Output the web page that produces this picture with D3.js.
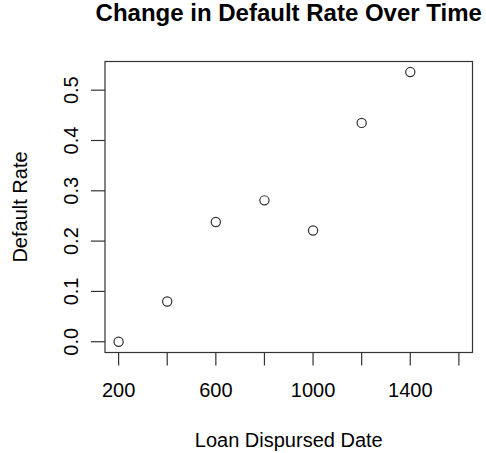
<!DOCTYPE html>
<html>
<head>
<meta charset="utf-8">
<script src="https://cdn.jsdelivr.net/npm/d3@7"></script>
<style>
  body { margin: 0; background: #fff; }
  text { font-family: "Liberation Sans", Arial, sans-serif; fill: #000; }
</style>
</head>
<body>
<svg width="486" height="453"></svg>
<script>
// data
var loanDates = [200, 400, 600, 800, 1000, 1200, 1400];
var defaultRates = [0, 0.08, 0.238, 0.281, 0.221, 0.435, 0.536];
var xTicks = [200, 400, 600, 800, 1000, 1200, 1400, 1600];
var xTickLabels = [200, 600, 1000, 1400];
var yTicks = [0, 0.1, 0.2, 0.3, 0.4, 0.5];

var svg = d3.select("svg");
// plot box
var box = {left: 105, right: 472.5, top: 61.5, bottom: 352.5};

var x = d3.scaleLinear().domain([144, 1656]).range([box.left, box.right]);
var y = d3.scaleLinear().domain([-0.0214, 0.557]).range([box.bottom, box.top]);

var ink = "#333";

// x axis ticks
svg.append("g").selectAll("line").data(xTicks).enter().append("line")
  .attr("x1", function(d) { return x(d); }).attr("x2", function(d) { return x(d); })
  .attr("y1", box.bottom).attr("y2", box.bottom + 13)
  .attr("stroke", ink).attr("stroke-width", 1.2);
svg.append("g").selectAll("text").data(xTickLabels).enter().append("text")
  .attr("x", function(d) { return x(d); }).attr("y", 397)
  .attr("text-anchor", "middle").attr("font-size", 20)
  .text(function(d) { return d; });

// y axis ticks
svg.append("g").selectAll("line").data(yTicks).enter().append("line")
  .attr("x1", box.left - 14).attr("x2", box.left)
  .attr("y1", function(d) { return y(d); }).attr("y2", function(d) { return y(d); })
  .attr("stroke", ink).attr("stroke-width", 1.2);
svg.append("g").selectAll("text").data(yTicks).enter().append("text")
  .attr("transform", function(d) { return "translate(78," + y(d) + ") rotate(-90)"; })
  .attr("text-anchor", "middle").attr("font-size", 20)
  .text(function(d) { return d3.format(".1f")(d); });

// box
svg.append("rect")
  .attr("x", box.left).attr("y", box.top)
  .attr("width", box.right - box.left).attr("height", box.bottom - box.top)
  .attr("fill", "none").attr("stroke", ink).attr("stroke-width", 1.2);

// points
svg.append("g").selectAll("circle").data(loanDates).enter().append("circle")
  .attr("cx", function(d) { return x(d); })
  .attr("cy", function(d, i) { return y(defaultRates[i]); })
  .attr("r", 4.6)
  .attr("fill", "none").attr("stroke", ink).attr("stroke-width", 1.2);

// titles
svg.append("text")
  .attr("x", (box.left + box.right) / 2).attr("y", 21)
  .attr("text-anchor", "middle").attr("font-size", 24).attr("font-weight", "bold")
  .text("Change in Default Rate Over Time");
svg.append("text")
  .attr("x", (box.left + box.right) / 2).attr("y", 446.5)
  .attr("text-anchor", "middle").attr("font-size", 20)
  .text("Loan Dispursed Date");
svg.append("text")
  .attr("transform", "translate(27," + (box.top + box.bottom) / 2 + ") rotate(-90)")
  .attr("text-anchor", "middle").attr("font-size", 20)
  .text("Default Rate");
</script>
</body>
</html>
